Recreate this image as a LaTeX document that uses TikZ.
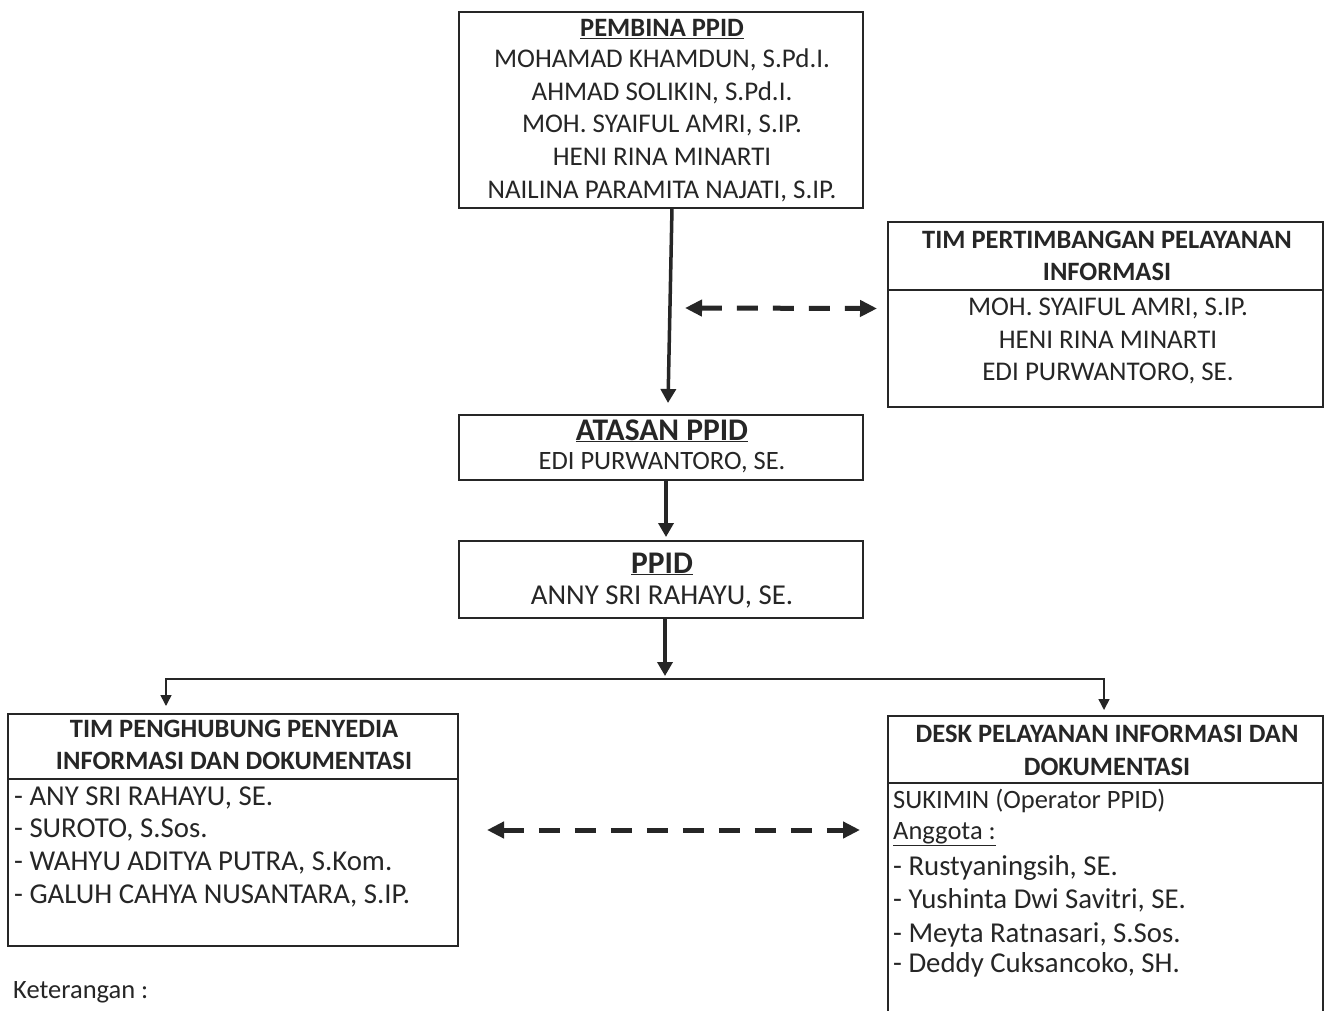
\documentclass[tikz,border=0pt]{standalone}
\usepackage{fontspec}
\setmainfont{Carlito}
\usetikzlibrary{arrows.meta}
\definecolor{ink}{RGB}{38,38,38}
\begin{document}
\begin{tikzpicture}[x=1pt,y=-1pt,
  box/.style={draw=ink,line width=1.8pt,inner sep=0pt,outer sep=0pt,anchor=north west},
  sepline/.style={draw=ink,line width=1.8pt},
  txt/.style={text=ink,inner sep=0pt,anchor=base,font=\fontsize{27}{33}\selectfont},
  mid/.style={txt,font=\fontsize{26.5}{33}\selectfont},
  ttl/.style={txt,font=\fontsize{26.5}{33}\selectfont\bfseries},
  bigttl/.style={txt,font=\fontsize{31.5}{36}\selectfont\bfseries},
  ltxt/.style={txt,anchor=base west,font=\fontsize{26.5}{33}\selectfont},
  ltxtb/.style={txt,anchor=base west,font=\fontsize{28.8}{33}\selectfont},
  mainarrow/.style={draw=ink,line width=3.5pt,-{Triangle[length=14pt,width=15pt]}},
  conn/.style={draw=ink,line width=1.5pt,-{Triangle[length=11pt,width=11pt]}},
  dasharrow/.style={draw=ink,line width=5pt,dash pattern=on 21pt off 15pt,
    {Triangle[length=17pt,width=16pt]}-{Triangle[length=17pt,width=16pt]}}
]
\useasboundingbox (0,0) rectangle (1324,1011);
\fill[white] (0,0) rectangle (1324,1011);
\clip (0,0) rectangle (1324,1011);

% PEMBINA PPID
\node[box,minimum width=404pt,minimum height=196pt] (pembina) at (459,12) {};
\node[ttl] (pb0) at (662,37) {\underline{PEMBINA PPID}};
\node[txt] (pb1) at (662,68) {MOHAMAD KHAMDUN, S.Pd.I.};
\node[txt] (pb2) at (662,101) {AHMAD SOLIKIN, S.Pd.I.};
\node[txt] (pb3) at (662,133) {MOH. SYAIFUL AMRI, S.IP.};
\node[txt] (pb4) at (662,166) {HENI RINA MINARTI};
\node[txt] (pb5) at (662,199) {NAILINA PARAMITA NAJATI, S.IP.};

% TIM PERTIMBANGAN
\node[box,minimum width=435pt,minimum height=185pt] (tpp) at (888,222) {};
\draw[sepline] ([yshift=-68pt]tpp.north west) -- ([yshift=-68pt]tpp.north east);
\node[ttl] (tp0) at (1107,248) {TIM PERTIMBANGAN PELAYANAN};
\node[ttl] (tp1) at (1107,280) {INFORMASI};
\node[txt] (tp2) at (1108,315) {MOH. SYAIFUL AMRI, S.IP.};
\node[txt] (tp3) at (1108,348) {HENI RINA MINARTI};
\node[txt] (tp4) at (1108,380) {EDI PURWANTORO, SE.};

% ATASAN PPID
\node[box,minimum width=404pt,minimum height=65pt] (atasan) at (459,415) {};
\node[bigttl] (at0) at (662,440) {\underline{ATASAN PPID}};
\node[mid] (at1) at (662,469) {EDI PURWANTORO, SE.};

% PPID
\node[box,minimum width=404pt,minimum height=77pt] (ppid) at (459,541) {};
\node[bigttl] (pp0) at (662,573) {\underline{PPID}};
\node[txt,font=\fontsize{28.8}{33}\selectfont] (pp1) at (662,604) {ANNY SRI RAHAYU, SE.};

% TIM PENGHUBUNG
\node[box,minimum width=450pt,minimum height=232pt] (tph) at (8,714) {};
\draw[sepline] ([yshift=-65pt]tph.north west) -- ([yshift=-65pt]tph.north east);
\node[ttl] (th0) at (234,737) {TIM PENGHUBUNG PENYEDIA};
\node[ttl] (th1) at (234,769) {INFORMASI DAN DOKUMENTASI};
\node[ltxtb] (th2) at (14,805) {- ANY SRI RAHAYU, SE.};
\node[ltxtb] (th3) at (14,837) {- SUROTO, S.Sos.};
\node[ltxtb] (th4) at (14,870) {- WAHYU ADITYA PUTRA, S.Kom.};
\node[ltxtb] (th5) at (14,903) {- GALUH CAHYA NUSANTARA, S.IP.};

% DESK
\node[box,minimum width=435pt,minimum height=330pt] (desk) at (888,716) {};
\draw[sepline] ([yshift=-67pt]desk.north west) -- ([yshift=-67pt]desk.north east);
\node[ttl] (dk0) at (1107,742) {DESK PELAYANAN INFORMASI DAN};
\node[ttl] (dk1) at (1107,775) {DOKUMENTASI};
\node[ltxt] (dk2) at (893,808) {SUKIMIN (Operator PPID)};
\node[ltxt] (dk3) at (893,839) {\underline{Anggota :}};
\node[ltxtb] (dk4) at (893,875) {- Rustyaningsih, SE.};
\node[ltxtb] (dk5) at (893,908) {- Yushinta Dwi Savitri, SE.};
\node[ltxtb] (dk6) at (893,942) {- Meyta Ratnasari, S.Sos.};
\node[ltxtb] (dk7) at (893,972) {- Deddy Cuksancoko, SH.};

% Keterangan
\node[ltxt] (ket) at (13,998) {Keterangan :};

% connectors
\draw[mainarrow] ([xshift=11pt]pembina.south) -- ([xshift=7pt,yshift=12pt]atasan.north);
\draw[mainarrow] ([xshift=5pt]atasan.south) -- ([xshift=5pt,yshift=4pt]ppid.north);
\coordinate (j) at (665,679);
\draw[mainarrow] ([xshift=4pt]ppid.south) -- ([yshift=3pt]j);
\draw[conn] (j) -| ([xshift=-67pt,yshift=8pt]tph.north);
\draw[conn] (j) -| ([xshift=-1.5pt,yshift=6pt]desk.north);

\coordinate (dl) at (685,308);
\draw[dasharrow] (dl) -- ([xshift=-11pt,yshift=6pt]tpp.west);
\draw[dasharrow] ([xshift=29pt]tph.east) -- ([xshift=-28pt]tph.east -| desk.west);
\end{tikzpicture}
\end{document}
